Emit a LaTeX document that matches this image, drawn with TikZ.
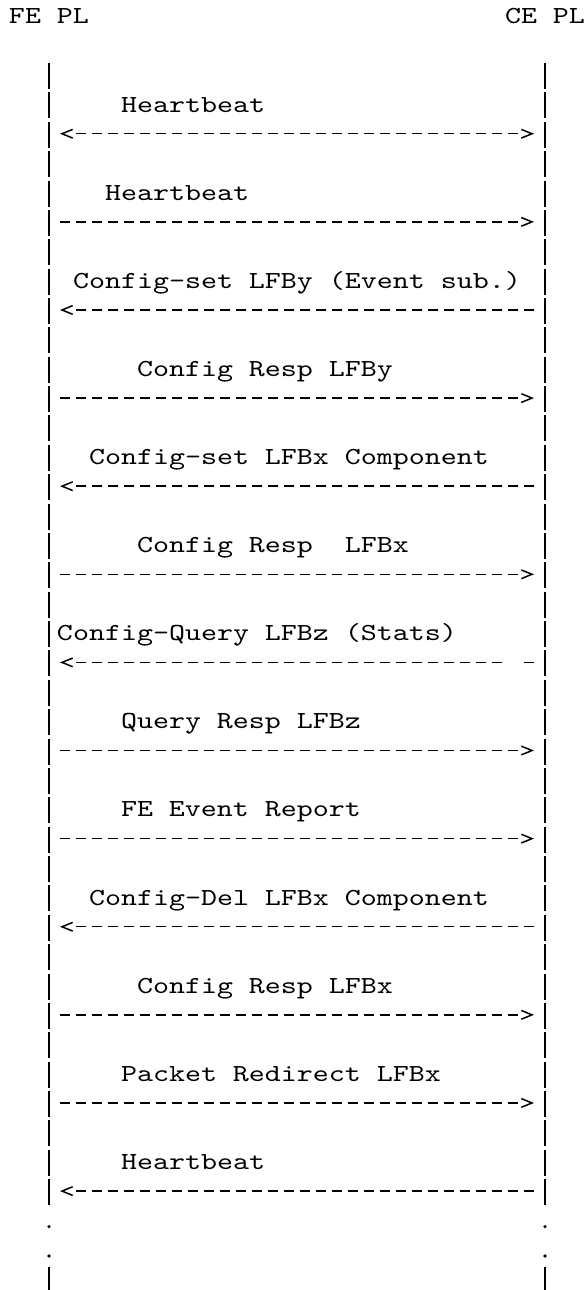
\documentclass[tikz,border=0pt]{standalone}
\usepackage{fontspec}
\usepackage{tikz}
\usetikzlibrary{arrows.meta, decorations.markings}

% Courier-like typewriter face: LM Mono widened to a 16pt pitch
\newfontfamily\rfcmono{lmmono10-regular.otf}[FakeStretch=1.244]

\tikzset{
    txt/.style={anchor=base west, inner sep=0pt, outer sep=0pt,
        font=\rfcmono\fontsize{24.5}{29}\selectfont},
    lifeline/.style={line width=1.5pt, dash pattern=on 26pt off 3.37pt},
    dashline/.style={line width=1.5pt, dash pattern=on 10.5pt off 5.5pt},
    msgline/.style={dashline, shorten <=10.75pt, shorten >=26.75pt, postaction={decorate}},
    msg/.style={msgline, decoration={markings,
        mark=at position -11pt with {\arrow{Straight Barb[length=10.7pt, width=8.7pt]}}}},
    msgboth/.style={msgline, shorten <=26.75pt, decoration={markings,
        mark=at position 11pt with {\arrowreversed{Straight Barb[length=10.7pt, width=8.7pt]}},
        mark=at position -11pt with {\arrow{Straight Barb[length=10.7pt, width=8.7pt]}}}}
}

\begin{document}
\begin{tikzpicture}[x=16pt, y=-29.37pt]
    \useasboundingbox (-9pt,23.9pt) rectangle (576pt,-1266.1pt);

    % Ends
    \node[txt] (fe) at (0,0) {FE PL};
    \node[txt] (ce) at (31,0) {CE PL};

    % Lifelines
    \coordinate (fe_top) at (2.5,1.333);
    \coordinate (ce_top) at (33.5,1.333);
    \coordinate (fe_end) at (2.5,40.22);
    \coordinate (ce_end) at (33.5,40.22);
    \draw[lifeline] (fe_top) -- (fe_end);
    \draw[lifeline] (ce_top) -- (ce_end);
    \fill (2.5,40.95) circle (1.8pt) (2.5,41.95) circle (1.8pt);
    \fill (33.5,40.95) circle (1.8pt) (33.5,41.95) circle (1.8pt);
    \draw[lifeline] (2.5,42.333) coordinate (fe_more) -- (2.5,43.2);
    \draw[lifeline] (33.5,42.333) coordinate (ce_more) -- (33.5,43.2);

    % Points on the lifelines, one pair per message
    \coordinate (fe_m1) at (2.5,3.74);   \coordinate (ce_m1) at (33.5,3.74);
    \coordinate (fe_m2) at (2.5,6.74);   \coordinate (ce_m2) at (33.5,6.74);
    \coordinate (fe_m3) at (2.5,9.74);   \coordinate (ce_m3) at (33.5,9.74);
    \coordinate (fe_m4) at (2.5,12.74);  \coordinate (ce_m4) at (33.5,12.74);
    \coordinate (fe_m5) at (2.5,15.74);  \coordinate (ce_m5) at (33.5,15.74);
    \coordinate (fe_m6) at (2.5,18.74);  \coordinate (ce_m6) at (33.5,18.74);
    \coordinate (fe_m7) at (2.5,21.74);  \coordinate (ce_m7) at (33.5,21.74);
    \coordinate (fe_m8) at (2.5,24.74);  \coordinate (ce_m8) at (33.5,24.74);
    \coordinate (fe_m9) at (2.5,27.74);  \coordinate (ce_m9) at (33.5,27.74);
    \coordinate (fe_m10) at (2.5,30.74); \coordinate (ce_m10) at (33.5,30.74);
    \coordinate (fe_m11) at (2.5,33.74); \coordinate (ce_m11) at (33.5,33.74);
    \coordinate (fe_m12) at (2.5,36.74); \coordinate (ce_m12) at (33.5,36.74);
    \coordinate (fe_m13) at (2.5,39.74); \coordinate (ce_m13) at (33.5,39.74);

    % Labels
    \node[txt] (l1) at (7,3) {Heartbeat};
    \node[txt] (l2) at (6,6) {Heartbeat};
    \node[txt] (l3) at (4,9) {Config-set LFBy (Event sub.)};
    \node[txt] (l4) at (8,12) {Config Resp LFBy};
    \node[txt] (l5) at (5,15) {Config-set LFBx Component};
    \node[txt] (l6) at (8,18) {Config Resp\ \ LFBx};
    \node[txt] (l7) at (3,21) {Config-Query LFBz (Stats)};
    \node[txt] (l8) at (7,24) {Query Resp LFBz};
    \node[txt] (l9) at (7,27) {FE Event Report};
    \node[txt] (l10) at (5,30) {Config-Del LFBx Component};
    \node[txt] (l11) at (8,33) {Config Resp LFBx};
    \node[txt] (l12) at (7,36) {Packet Redirect LFBx};
    \node[txt] (l13) at (7,39) {Heartbeat};

    % Messages
    \draw[msgboth] (fe_m1) -- (ce_m1);
    \draw[msg] (fe_m2) -- (ce_m2);
    \draw[msg] (ce_m3) -- (fe_m3);
    \draw[msg] (fe_m4) -- (ce_m4);
    \draw[msg] (ce_m5) -- (fe_m5);
    \draw[msg] (fe_m6) -- (ce_m6);
    \draw[msg, shorten <=42.75pt] (ce_m7) -- (fe_m7);
    \draw[dashline] ([xshift=-11pt]ce_m7) -- ++(-10.5pt,0);
    \draw[msg] (fe_m8) -- (ce_m8);
    \draw[msg] (fe_m9) -- (ce_m9);
    \draw[msg] (ce_m10) -- (fe_m10);
    \draw[msg] (fe_m11) -- (ce_m11);
    \draw[msg] (fe_m12) -- (ce_m12);
    \draw[msg] (ce_m13) -- (fe_m13);

\end{tikzpicture}
\end{document}
